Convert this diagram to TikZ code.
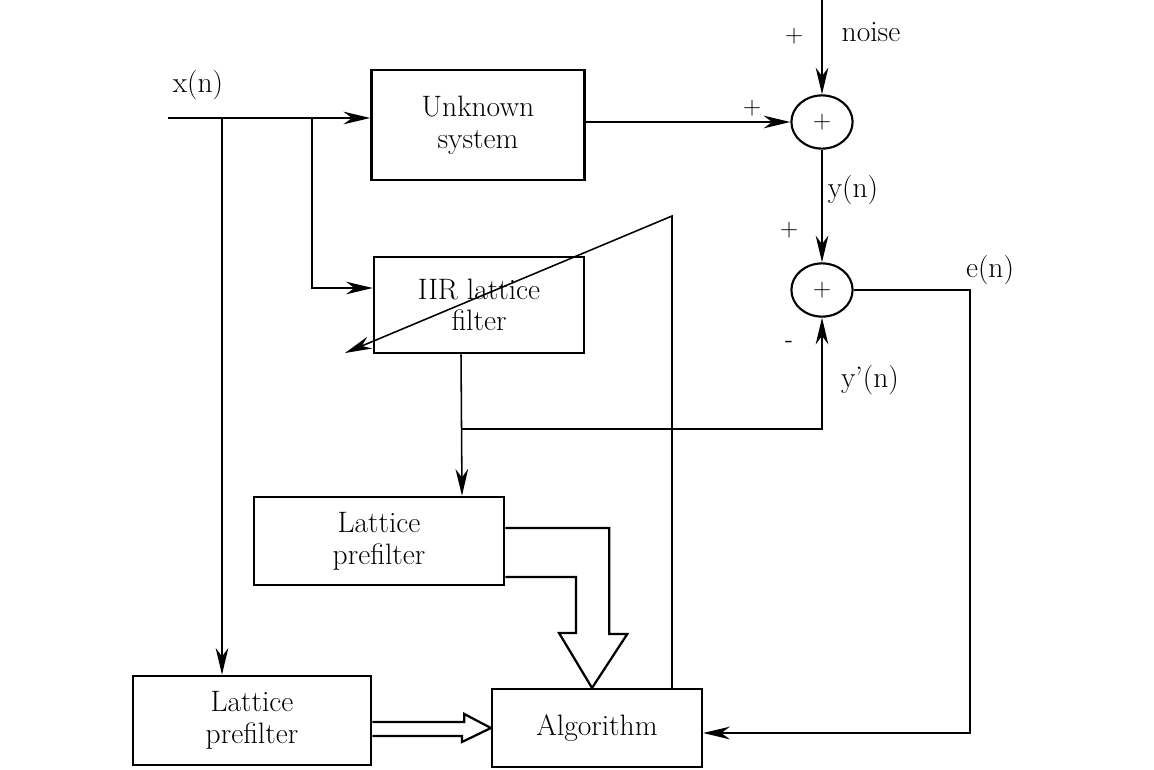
\documentclass[tikz,border=0pt]{standalone}
\usetikzlibrary{arrows.meta,positioning,calc,shapes.geometric}
\begin{document}
\begin{tikzpicture}[x=0.025cm,y=-0.025cm,every node/.style={font=\fontsize{21}{22.5}\selectfont},
box/.style={draw,line width=1.8pt,align=center,inner sep=0pt},
sum/.style={draw,ellipse,line width=1.5pt,minimum width=1.53cm,minimum height=1.33cm,
inner sep=0pt,font=\sffamily\fontsize{18}{20}\selectfont},
sgn/.style={font=\sffamily\fontsize{18}{20}\selectfont},
arr/.style={-{Stealth[length=19pt,width=9pt,inset=6pt]},line width=1.1pt},
fat/.style={line width=1.6pt,line join=miter}]
\useasboundingbox (0,0) rectangle (1154,769);
\node[box,minimum width=5.325cm,minimum height=2.75cm] (unk) at (478,125) {Unknown\\system};
\node[box,minimum width=5.25cm,minimum height=2.4cm] (iir) at (479,305) {IIR lattice\\filter};
\node[box,minimum width=6.25cm,minimum height=2.2cm] (lp1) at (379,541) {Lattice\\prefilter};
\node[box,minimum width=5.95cm,minimum height=2.225cm] (lp2) at (252,720.5) {Lattice\\prefilter};
\node[box,line width=1.5pt,minimum width=5.25cm,minimum height=1.95cm] (alg) at (597,728) {Algorithm};
\node[sum] (s1) at (822,122) {+};
\node[sum] (s2) at (822,290) {+};
\coordinate (in) at (168,118);
\coordinate (b1) at (222,118);
\coordinate (b2) at (312,118);
\coordinate (nz) at (822,0);
\coordinate (ec) at (970,733);
\coordinate (yb) at (462,429);
\coordinate (adjt) at (672,216);
\coordinate (adje) at (345,353);
\draw[arr] (in) -- (in -| unk.west);
\draw[arr] (b1) -- (b1 |- lp2.north);
\draw[arr] (b2) |- ($(iir.west)+(0,-17)$);
\draw[arr] (unk.east |- s1) -- (s1.west);
\draw[arr] (nz) -- (s1.north);
\draw[arr] (s1.south) -- (s2.north);
\draw[arr] (s2.east) -| (ec) -- (ec -| alg.east);
\draw[arr] ($(iir.south)+(-18,0)$) -- ($(lp1.north)+(83,0)$);
\draw[arr] (yb) -| (s2.south);
\draw[arr] ($(alg.north)+(75,0)$) -- (adjt) -- (adje);
\draw[fat] ($(lp1.east)+(0,-13)$) -- ++(104,0) -- ++(0,106) -- ++(18,0) -- ($(alg.north)+(-5,0)$)
  -- ++(-33,-55) -- ++(17,0) -- ++(0,-56) -- ($(lp1.east)+(0,36)$);
\draw[fat] ($(lp2.east)+(0,1.5)$) -- ++(92,0) -- ++(0,-8) -- (alg.west) -- ++(-29,14) -- ++(0,-6)
  -- ($(lp2.east)+(0,15.5)$);
\node (xn) at (198,85) {x(n)};
\node (nlab) at (871,32) {noise};
\node (ylab) at (853,190) {y(n)};
\node (elab) at (990,270) {e(n)};
\node (yplab) at (870,380) {y’(n)};
\node[sgn] (p1) at (794,36) {+};
\node[sgn] (p2) at (752,108) {+};
\node[sgn] (p3) at (789,230) {+};
\node[sgn] (m1) at (789,344) {-};
\end{tikzpicture}
\end{document}
